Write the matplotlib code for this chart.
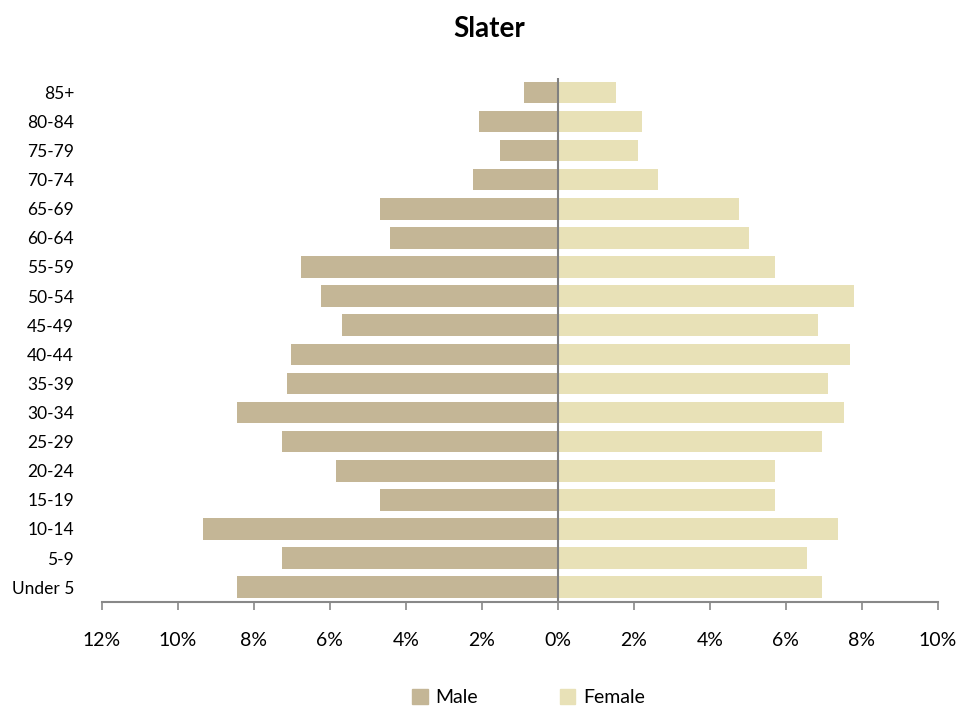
import matplotlib.pyplot as plt
from matplotlib.ticker import FuncFormatter, MultipleLocator
from matplotlib.patches import Patch
import numpy as np

plt.rcParams['font.family'] = ['Lato', 'DejaVu Sans']

# age groups, bottom to top
ages = ['Under 5', '5-9', '10-14', '15-19', '20-24', '25-29', '30-34', '35-39',
        '40-44', '45-49', '50-54', '55-59', '60-64', '65-69', '70-74', '75-79',
        '80-84', '85+']
male = [8.43, 7.25, 9.33, 4.68, 5.85, 7.25, 8.43, 7.13, 7.02, 5.69, 6.23, 6.75,
        4.41, 4.68, 2.22, 1.53, 2.07, 0.89]
female = [6.96, 6.55, 7.37, 5.71, 5.71, 6.96, 7.53, 7.11, 7.68, 6.85, 7.80, 5.71,
          5.02, 4.76, 2.63, 2.10, 2.22, 1.53]

male_col = '#C4B696'
female_col = '#E8E1B7'

fig = plt.figure(figsize=(9.79, 7.13), dpi=100)
ax = fig.add_axes([0.104, 0.156, 0.854, 0.735])

y = np.arange(len(ages))
ax.barh(y, -np.array(male), height=0.74, color=male_col, label='Male')
ax.barh(y, female, height=0.74, color=female_col, label='Female')
ax.axvline(0, color='#808080', lw=1.5)

ax.set_xlim(-12, 10)
ax.set_ylim(-0.5, len(ages) - 0.5)
ax.xaxis.set_major_locator(MultipleLocator(2))
ax.xaxis.set_major_formatter(FuncFormatter(lambda v, p: '%d%%' % abs(round(v))))
ax.set_yticks(y)
ax.set_yticklabels(ages)

for s in ['top', 'right', 'left']:
    ax.spines[s].set_visible(False)
ax.spines['bottom'].set_color('#888888')
ax.spines['bottom'].set_linewidth(1.5)
ax.tick_params(axis='x', direction='out', length=6, color='#888888', width=1.2,
               pad=16, labelsize=14)
ax.tick_params(axis='y', length=0, pad=20, labelsize=12.5)

fig.suptitle('Slater', fontsize=20, fontweight='bold', x=0.5, y=0.978)

handles = [Patch(color=male_col), Patch(color=female_col)]
fig.legend(handles, ['Male', 'Female'], loc='center', bbox_to_anchor=(0.54, 0.022),
           ncol=2, frameon=False, fontsize=14, handlelength=0.8, handleheight=0.8,
           columnspacing=4.2, handletextpad=0.4)

fig.savefig('out.png', dpi=100)
